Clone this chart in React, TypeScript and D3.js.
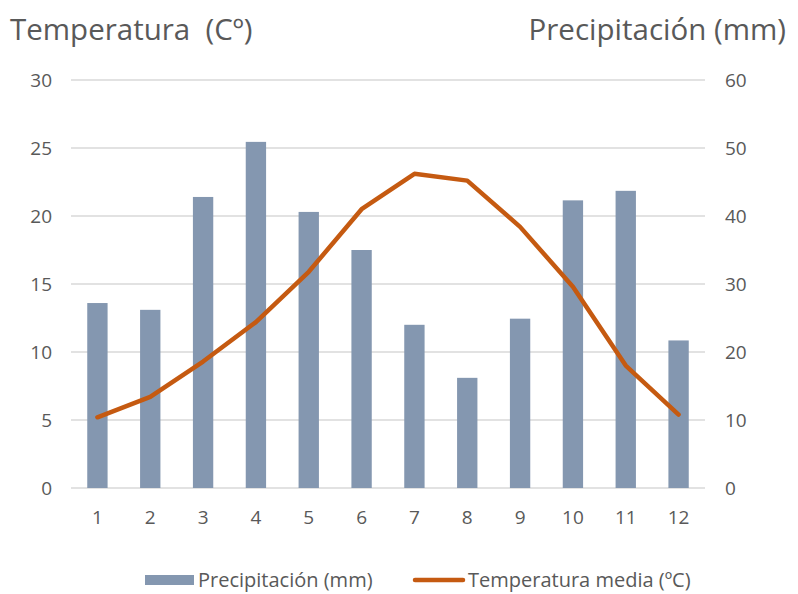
import { useEffect, useRef } from "react";
import { select, scaleLinear, scaleBand, line, axisLeft, axisRight, axisBottom } from "d3";

// datos del climograma
const months = ["1", "2", "3", "4", "5", "6", "7", "8", "9", "10", "11", "12"];
const precipitation = [27.2, 26.2, 42.8, 50.9, 40.6, 35.0, 24.0, 16.2, 24.9, 42.3, 43.7, 21.7];
const temperature = [5.2, 6.7, 9.3, 12.2, 15.9, 20.5, 23.1, 22.6, 19.2, 14.8, 9.0, 5.4];
const tempTicks = [0, 5, 10, 15, 20, 25, 30];
const precTicks = [0, 10, 20, 30, 40, 50, 60];

const W = 798;
const H = 594;
const FONT = "'Open Sans', 'Noto Sans', sans-serif";
const TEXT = "#595959";
const BAR = "#8497B0";
const LINE = "#C55A11";

const drawChart = (node: SVGSVGElement) => {
  const svg = select(node);
  svg.selectAll("*").remove();

  const left = 71,
    right = 705,
    top = 80,
    bottom = 488;

  const x = scaleBand(months, [left, right]).paddingInner(0.615).paddingOuter(0.3075);
  const yT = scaleLinear([0, 30], [bottom, top]);
  const yP = scaleLinear([0, 60], [bottom, top]);

  // rejilla
  svg
    .append("g")
    .selectAll("line")
    .data(tempTicks)
    .enter()
    .append("line")
    .attr("x1", left)
    .attr("x2", right)
    .attr("y1", (d) => yT(d))
    .attr("y2", (d) => yT(d))
    .attr("stroke", "#d9d9d9")
    .attr("stroke-width", 1.5);

  // barras de precipitación
  svg
    .append("g")
    .selectAll("rect")
    .data(precipitation)
    .enter()
    .append("rect")
    .attr("x", (d, i) => x(months[i]) as number)
    .attr("y", (d) => yP(d))
    .attr("width", x.bandwidth())
    .attr("height", (d) => bottom - yP(d))
    .attr("fill", BAR);

  // línea de temperatura
  const cx = (i: number) => (x(months[i]) as number) + x.bandwidth() / 2;
  const path = line<number>()
    .x((d, i) => cx(i))
    .y((d) => yT(d));
  svg
    .append("path")
    .attr("d", path(temperature) as string)
    .attr("fill", "none")
    .attr("stroke", LINE)
    .attr("stroke-width", 4.5)
    .attr("stroke-linecap", "round")
    .attr("stroke-linejoin", "round");

  // ejes (solo etiquetas)
  const styleAxis = (g: any) => {
    g.select(".domain").remove();
    g.selectAll(".tick line").remove();
    g.selectAll("text").attr("fill", TEXT).attr("font-family", FONT).attr("font-size", 19);
  };
  svg
    .append("g")
    .attr("transform", `translate(${left - 19},0)`)
    .call(axisLeft(yT).tickValues(tempTicks).tickSize(0).tickPadding(0))
    .call(styleAxis);
  svg
    .append("g")
    .attr("transform", `translate(${right + 20},0)`)
    .call(axisRight(yP).tickValues(precTicks).tickSize(0).tickPadding(0))
    .call(styleAxis);
  svg
    .append("g")
    .attr("transform", `translate(0,${bottom + 22})`)
    .call(axisBottom(x).tickSize(0).tickPadding(0))
    .call(styleAxis);

  // títulos de ejes
  svg
    .append("text")
    .text("Temperatura  (Cº)")
    .attr("x", 10)
    .attr("y", 40)
    .style("white-space", "pre")
    .attr("fill", TEXT)
    .attr("font-family", FONT)
    .attr("font-size", 29.5);
  svg
    .append("text")
    .text("Precipitación (mm)")
    .attr("x", 786)
    .attr("y", 40)
    .attr("text-anchor", "end")
    .attr("fill", TEXT)
    .attr("font-family", FONT)
    .attr("font-size", 29.5);

  // leyenda
  const lg = svg.append("g").attr("font-family", FONT).attr("font-size", 20).attr("fill", TEXT);
  lg.append("rect").attr("x", 145).attr("y", 575).attr("width", 49).attr("height", 10).attr("fill", BAR);
  lg.append("text").text("Precipitación (mm)").attr("x", 198).attr("y", 587);
  lg.append("line")
    .attr("x1", 415)
    .attr("x2", 463)
    .attr("y1", 580)
    .attr("y2", 580)
    .attr("stroke", LINE)
    .attr("stroke-width", 4.5)
    .attr("stroke-linecap", "round");
  lg.append("text").text("Temperatura media (ºC)").attr("x", 468).attr("y", 587);
};

const App = () => {
  const ref = useRef<SVGSVGElement>(null);
  useEffect(() => {
    if (ref.current) drawChart(ref.current);
  }, []);
  return (
    <svg
      ref={ref}
      width={W}
      height={H}
      style={{ position: "absolute", left: 0, top: 0, background: "#fff" }}
    />
  );
};

export default App;
